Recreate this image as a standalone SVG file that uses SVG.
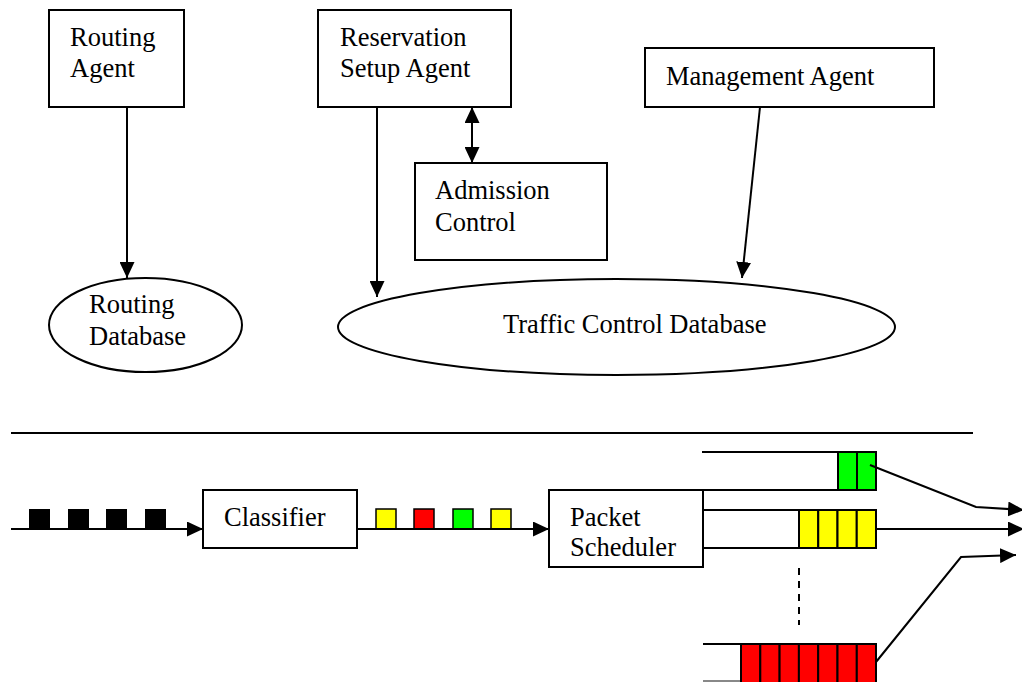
<svg xmlns="http://www.w3.org/2000/svg" width="1022" height="682" viewBox="0 0 1022 682">
  <style>
    .box { fill: #fff; stroke: #000; stroke-width: 2; }
    .db { fill: #fff; stroke: #000; stroke-width: 2; }
    .lbl { font-family: "Liberation Serif", "Times New Roman", serif; font-size: 26.5px; fill: #000; }
    .wire { fill: none; stroke: #000; stroke-width: 2; }
    .arrow { fill: none; stroke: #000; stroke-width: 2; marker-end: url(#head); }
    .pkt { stroke: #000; stroke-width: 1.5; }
    .black { fill: #000; }
    .yellow { fill: #ffff00; }
    .red { fill: #ff0000; }
    .green { fill: #00ff00; }
    .cell { stroke: #000; stroke-width: 2; }
  </style>
  <defs>
    <marker id="head" markerUnits="userSpaceOnUse" markerWidth="16" markerHeight="15" refX="16" refY="7.5" orient="auto">
      <path d="M0,0 L16,7.5 L0,15 z" fill="#000"/>
    </marker>
    <marker id="tail" markerUnits="userSpaceOnUse" markerWidth="16" markerHeight="15" refX="16" refY="7.5" orient="auto-start-reverse">
      <path d="M0,0 L16,7.5 L0,15 z" fill="#000"/>
    </marker>
  </defs>

  <rect width="1022" height="682" fill="#fff"/>

  <!-- control plane -->
  <g id="routing-agent">
    <rect class="box" x="49" y="10" width="135" height="97"/>
    <text class="lbl" x="70" y="46">Routing</text>
    <text class="lbl" x="70" y="77">Agent</text>
  </g>
  <g id="reservation-setup-agent">
    <rect class="box" x="318" y="10" width="193" height="97"/>
    <text class="lbl" x="340" y="46">Reservation</text>
    <text class="lbl" x="340" y="77">Setup Agent</text>
  </g>
  <g id="admission-control">
    <rect class="box" x="415" y="163" width="192" height="97"/>
    <text class="lbl" x="435" y="199">Admission</text>
    <text class="lbl" x="435" y="231">Control</text>
  </g>
  <g id="management-agent">
    <rect class="box" x="645" y="48" width="289" height="59"/>
    <text class="lbl" x="666" y="85">Management Agent</text>
  </g>
  <g id="routing-database">
    <ellipse class="db" cx="145.5" cy="325" rx="96.5" ry="47"/>
    <text class="lbl" x="89" y="313">Routing</text>
    <text class="lbl" x="89" y="345">Database</text>
  </g>
  <g id="traffic-control-database">
    <ellipse class="db" cx="616.5" cy="327" rx="278.5" ry="48"/>
    <text class="lbl" x="503" y="333">Traffic Control Database</text>
  </g>

  <!-- divider between control and data plane -->
  <line class="wire" x1="11" y1="433" x2="973" y2="433"/>

  <!-- data plane -->
  <g id="classifier">
    <rect class="box" x="203" y="490" width="154" height="58"/>
    <text class="lbl" x="224" y="526">Classifier</text>
  </g>
  <g id="packet-scheduler">
    <rect class="box" x="549" y="490" width="154" height="77"/>
    <text class="lbl" x="570" y="526">Packet</text>
    <text class="lbl" x="570" y="556">Scheduler</text>
  </g>

  <!-- incoming unclassified packets -->
  <g id="packets-in">
    <rect class="black" x="29" y="509" width="21" height="20"/>
    <rect class="black" x="68" y="509" width="21" height="20"/>
    <rect class="black" x="106" y="509" width="21" height="20"/>
    <rect class="black" x="145" y="509" width="21" height="20"/>
  </g>

  <!-- classified packets -->
  <g id="packets-classified">
    <rect class="pkt yellow" x="376" y="509" width="20" height="20"/>
    <rect class="pkt red" x="414" y="509" width="20" height="20"/>
    <rect class="pkt green" x="453" y="509" width="20" height="20"/>
    <rect class="pkt yellow" x="491" y="509" width="20" height="20"/>
  </g>

  <!-- per-class queues -->
  <g id="queue-green">
    <line class="wire" x1="702" y1="452" x2="838" y2="452"/>
    <line class="wire" x1="703" y1="490" x2="838" y2="490"/>
    <rect class="cell green" x="838" y="452" width="19" height="38"/>
    <rect class="cell green" x="857" y="452" width="19" height="38"/>
  </g>
  <g id="queue-yellow">
    <line class="wire" x1="703" y1="510" x2="799" y2="510"/>
    <line class="wire" x1="703" y1="548" x2="799" y2="548"/>
    <rect class="cell yellow" x="799" y="510" width="19.25" height="38"/>
    <rect class="cell yellow" x="818.25" y="510" width="19.25" height="38"/>
    <rect class="cell yellow" x="837.5" y="510" width="19.25" height="38"/>
    <rect class="cell yellow" x="856.75" y="510" width="19.25" height="38"/>
  </g>
  <g id="queue-red">
    <line class="wire" x1="703" y1="644" x2="741" y2="644"/>
    <line x1="703" y1="681" x2="741" y2="681" stroke="#888" stroke-width="2"/>
    <rect class="cell red" x="741" y="644" width="19.3" height="42"/>
    <rect class="cell red" x="760.3" y="644" width="19.3" height="42"/>
    <rect class="cell red" x="779.6" y="644" width="19.3" height="42"/>
    <rect class="cell red" x="798.9" y="644" width="19.3" height="42"/>
    <rect class="cell red" x="818.2" y="644" width="19.3" height="42"/>
    <rect class="cell red" x="837.5" y="644" width="19.3" height="42"/>
    <rect class="cell red" x="856.8" y="644" width="19.2" height="42"/>
  </g>

  <!-- connectors -->
  <g id="connectors">
    <line class="arrow" x1="127" y1="107" x2="127" y2="278"/>
    <line class="arrow" x1="377" y1="107" x2="377" y2="297"/>
    <line class="arrow" x1="472" y1="107" x2="472" y2="163" marker-start="url(#tail)"/>
    <line class="arrow" x1="760" y1="107" x2="742" y2="278"/>

    <line class="arrow" x1="11" y1="529" x2="203" y2="529"/>
    <line class="arrow" x1="357" y1="529" x2="549" y2="529"/>

    <polyline class="arrow" points="870,465 976,507 1024,510"/>
    <line class="arrow" x1="876" y1="529" x2="1024" y2="529"/>
    <polyline class="arrow" points="876,662 961,557 1016,555"/>

    <line x1="799" y1="568" x2="799" y2="625" stroke="#000" stroke-width="2" stroke-dasharray="7,6"/>
  </g>
</svg>
